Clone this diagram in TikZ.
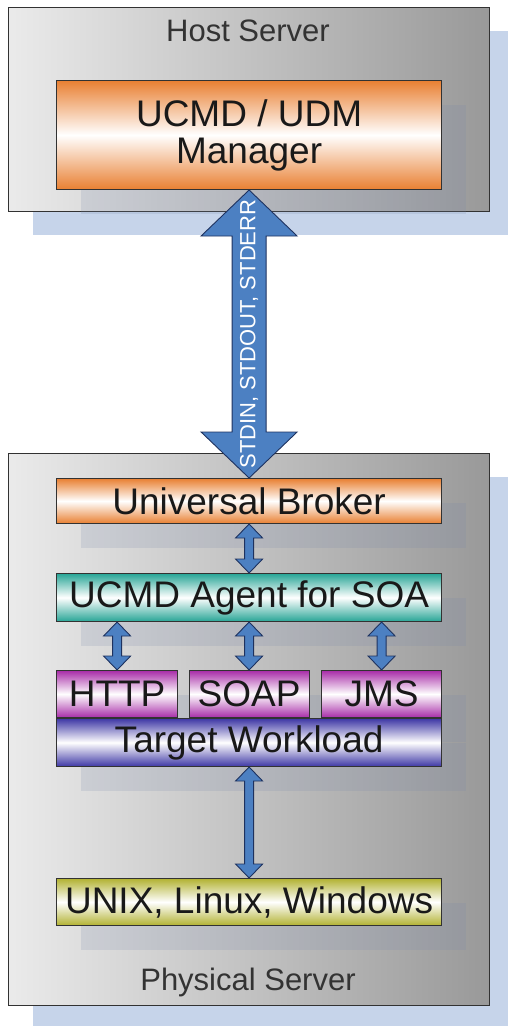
\documentclass[tikz,border=0pt]{standalone}
\usepackage{fontspec}
\setmainfont{Liberation Sans}
\usetikzlibrary{calc,positioning,shadows}

\definecolor{orng}{RGB}{233,128,50}
\definecolor{teal2}{RGB}{40,165,150}
\definecolor{mgnt}{RGB}{168,45,168}
\definecolor{navy2}{RGB}{62,55,165}
\definecolor{olive2}{RGB}{178,178,50}
\definecolor{arrblue}{RGB}{76,128,194}
\definecolor{arrline}{RGB}{30,50,95}
\definecolor{paleblue}{RGB}{198,212,234}
\definecolor{shdblue}{RGB}{120,135,170}
\definecolor{edge}{RGB}{50,50,50}

\begin{document}
\begin{tikzpicture}[x=1pt,y=-1pt,
  frame/.style={draw=edge,line width=1.2pt,anchor=north west,inner sep=0pt,
    left color=black!8,right color=black!40,
    drop shadow={shadow xshift=24pt,shadow yshift=-23pt,fill=paleblue,opacity=1}},
  grad/.style={top color=#1,bottom color=#1,middle color=white},
  box/.style={draw=edge,line width=1pt,inner sep=0pt,minimum width=385pt,minimum height=47pt,
    font=\fontsize{37}{37}\selectfont,text=black!90,
    drop shadow={shadow xshift=24pt,shadow yshift=-24pt,fill=shdblue,opacity=0.18}},
  proto/.style={box,grad=mgnt,minimum width=120pt},
  lbl/.style={font=\fontsize{31}{31}\selectfont,text=black!80,anchor=base},
  iotext/.style={text=white,font=\fontsize{22}{22}\selectfont,inner sep=0pt},
  dblarrow/.style n args={3}{fill=arrblue,draw=arrline,line width=0.9pt,line join=miter,
    to path={let \p1=(\tikztostart),\p2=(\tikztotarget) in
      (\x1,\y1) -- (\x1+#2,\y1-#3) -- (\x1+#1,\y1-#3) -- (\x1+#1,\y2+#3) -- (\x1+#2,\y2+#3)
      -- (\x1,\y2) -- (\x1-#2,\y2+#3) -- (\x1-#1,\y2+#3) -- (\x1-#1,\y1-#3) -- (\x1-#2,\y1-#3) -- cycle}},
  link/.style={dblarrow={4.5pt}{13.5pt}{14pt}},
  pipe/.style={dblarrow={17pt}{48pt}{46pt}}
]
\useasboundingbox (0,0) rectangle (508,1026);

% servers
\node[frame,minimum width=481pt,minimum height=204pt] (host) at (8,7) {};
\node[frame,minimum width=481pt,minimum height=552pt] (phys) at (8,453) {};
\node[lbl] (hostlbl) at (248,41) {Host Server};
\node[lbl] (physlbl) at (248,990) {Physical Server};

% host side
\node[box,grad=orng,minimum height=109pt,align=center,below=73pt of host.north] (mgr) {UCMD / UDM\\Manager};

% agent side
\node[box,grad=orng,minimum height=45pt,below=25pt of phys.north] (broker) {Universal Broker};
\node[box,grad=teal2,minimum height=48pt,below=49pt of broker] (agent) {UCMD Agent for SOA};
\node[proto,minimum width=121pt,below right=48pt and 0pt of agent.south west] (http) {HTTP};
\node[proto,below=48pt of agent.south] (soap) {SOAP};
\node[proto,below left=48pt and 0pt of agent.south east] (jms) {JMS};
\node[box,grad=navy2,minimum height=48pt,below=0pt of soap] (target) {Target Workload};
\node[box,grad=olive2,below=111pt of target] (unix) {UNIX, Linux, Windows};

% arrows
\draw[pipe] (mgr.south) to (broker.north);
\node[iotext,rotate=90] (io) at ($(mgr.south)!0.5!(broker.north)$) {STDIN, STDOUT, STDERR};
\draw[link] (broker.south) to (agent.north);
\draw[link] (http.north |- agent.south) to (http.north);
\draw[link] (agent.south) to (soap.north);
\draw[link] (jms.north |- agent.south) to (jms.north);
\draw[link] (target.south) to (unix.north);
\end{tikzpicture}
\end{document}
